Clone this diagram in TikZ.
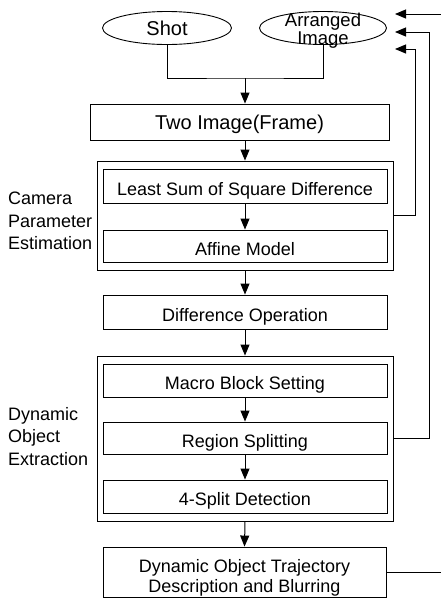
\documentclass[tikz,border=0pt]{standalone}
\usepackage{fontspec}
\setmainfont{Liberation Sans}
\usetikzlibrary{arrows.meta,shapes.geometric}
\begin{document}
\begin{tikzpicture}[x=1pt,y=-1pt,
  basebox/.style={draw, line width=0.9pt, rectangle, inner sep=0pt, minimum width=284pt, font=\fontsize{18}{20}\selectfont},
  box/.style={basebox, text height=18pt, text depth=0pt},
  outer/.style={draw, line width=0.9pt, rectangle, inner sep=0pt, minimum width=296pt},
  oval/.style={draw, line width=0.9pt, ellipse, inner sep=0pt, minimum height=33pt, font=\fontsize{20}{15}\selectfont},
  conn/.style={line width=1pt},
  arr/.style={line width=1pt, -{Triangle[length=11pt,width=9pt]}},
  lbl/.style={anchor=west, inner sep=0pt, align=left, font=\fontsize{18}{22.5}\selectfont}]
\useasboundingbox (0,0) rectangle (441,598);

\node[oval, minimum width=129pt, text height=14.3pt, text depth=0pt] (shot) at (167,28) {Shot};
\node[oval, minimum width=127pt,
  label={[inner sep=0pt, yshift=-2.5pt, align=center, font=\fontsize{18.5}{14.5}\selectfont]center:Arranged\\Image}] (arranged) at (323,28) {};

\node[basebox, minimum width=299pt, minimum height=36pt, text height=14.3pt, text depth=0pt, font=\fontsize{20}{24}\selectfont] (two) at (239.5,122) {Two Image(Frame)};

\node[outer, minimum height=109pt] (cpe) at (245,215.5) {};
\node[box, minimum height=34pt] (lssd) at (245,186) {Least Sum of Square Difference};
\node[box, minimum height=32pt] (affine) at (245,246) {Affine Model};

\node[box, minimum height=34pt] (diff) at (245,312) {Difference Operation};

\node[outer, minimum height=165pt] (doe) at (245,438.5) {};
\node[box, minimum height=33pt] (macro) at (245,380.5) {Macro Block Setting};
\node[box, minimum height=32pt] (region) at (245,438) {Region Splitting};
\node[box, minimum height=33pt] (split) at (245,496.5) {4-Split Detection};

\node[basebox, minimum width=283pt, minimum height=50pt] (final) at (244.5,572)
  {\raisebox{-6pt}[\height][\depth]{\begin{tabular}{@{}c@{}}Dynamic Object Trajectory\\Description and Blurring\end{tabular}}};

\node[lbl] (camlbl) at (8,221) {Camera\\Parameter\\Estimation};
\node[lbl] (doelbl) at (8,436.5) {Dynamic\\Object\\Extraction};

\coordinate (j) at (245,78);
\draw[conn] (shot.south) |- (j) -| (arranged.south);
\draw[arr] (j) -- (j |- two.north);
\draw[arr] (two.south -| j) -- (cpe.north);
\draw[arr] (lssd.south) -- (affine.north);
\draw[arr] (cpe.south) -- (diff.north);
\draw[arr] (diff.south) -- (doe.north);
\draw[arr] (macro.south) -- (region.north);
\draw[arr] (region.south) -- (split.north);
\draw[arr] (doe.south) -- (final.north);

\coordinate (t1) at (395,14);
\coordinate (t2) at (395,32);
\coordinate (t3) at (395,49);
\coordinate (c1) at (444,14);
\coordinate (c2) at (429,32);
\coordinate (c3) at (415,49);
\draw[arr] (final.east) -| (c1) -- (t1);
\draw[arr] (doe.east |- region.east) -| (c2) -- (t2);
\draw[arr] (cpe.east) -| (c3) -- (t3);
\end{tikzpicture}
\end{document}
